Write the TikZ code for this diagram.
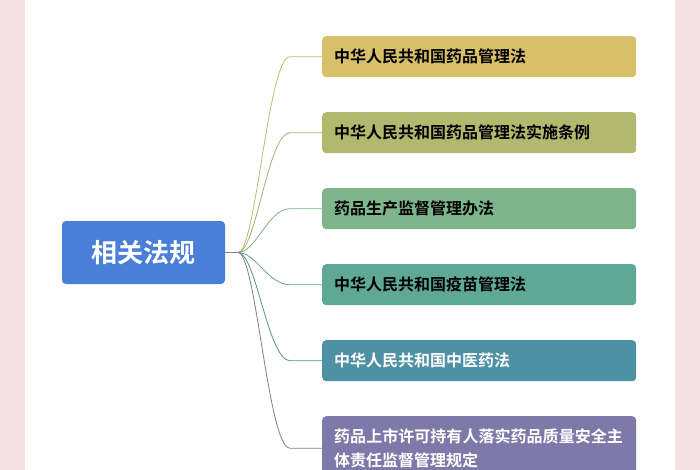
\documentclass[tikz,border=0pt]{standalone}
\usepackage{fontspec}
\XeTeXlinebreaklocale "zh"
\XeTeXlinebreakskip=0pt plus 1pt
\newfontfamily\cjk[BoldFont={Noto Sans CJK SC Bold}]{Noto Sans CJK SC}
\definecolor{pinkedge}{HTML}{F6E1E4}
\definecolor{rootblue}{HTML}{4A7FD8}
\definecolor{lawA}{HTML}{D8BF6A}
\definecolor{lawB}{HTML}{B2B86E}
\definecolor{lawC}{HTML}{7EB58A}
\definecolor{lawD}{HTML}{5FA896}
\definecolor{lawE}{HTML}{4F91A4}
\definecolor{lawF}{HTML}{7E79A8}
\begin{document}
\begin{tikzpicture}
      [x=1pt,y=-1pt,
       root/.style={rounded corners=4pt,fill=rootblue,text=white,minimum width=163pt,
                    minimum height=63pt,font=\cjk\bfseries\fontsize{26}{30}\selectfont},
       law/.style={rounded corners=4pt,anchor=north west,minimum width=314pt,
                   text width=290pt,align=left,font=\cjk\bfseries\fontsize{16}{24}\selectfont}]
      \useasboundingbox (0,0) rectangle (700,470);
      \fill[pinkedge] (0,0) rectangle (25,470);
      \fill[pinkedge] (675,0) rectangle (700,470);
      \node at (143.5,252.5) (root) [root] {相关法规};
      \coordinate (hub) at (238,252.5);
      \node at (322,36) (l1) [law,fill=lawA,minimum height=41pt] {中华人民共和国药品管理法};
      \node at (322,112) (l2) [law,fill=lawB,minimum height=41pt] {中华人民共和国药品管理法实施条例};
      \node at (322,188) (l3) [law,fill=lawC,minimum height=41pt] {药品生产监督管理办法};
      \node at (322,264) (l4) [law,fill=lawD,minimum height=41pt] {中华人民共和国疫苗管理法};
      \node at (322,340) (l5) [law,fill=lawE,minimum height=41pt,text=white] {中华人民共和国中医药法};
      \node at (322,416) (l6) [law,fill=lawF,minimum height=64pt,text=white]
        {药品上市许可持有人落实药品质量安全主体责任监督管理规定};
      \draw[gray,line width=0.8pt] (root.east) -- (hub);
      \foreach \n/\c in {l1/lawA,l2/lawB,l3/lawC,l4/lawD,l5/lawE,l6/gray}
        \draw[\c!85!gray,line width=0.8pt] (hub) .. controls +(18,0) and +(-22,0)
          .. ([xshift=-32pt]\n.west) -- (\n.west);
\end{tikzpicture}
\end{document}
